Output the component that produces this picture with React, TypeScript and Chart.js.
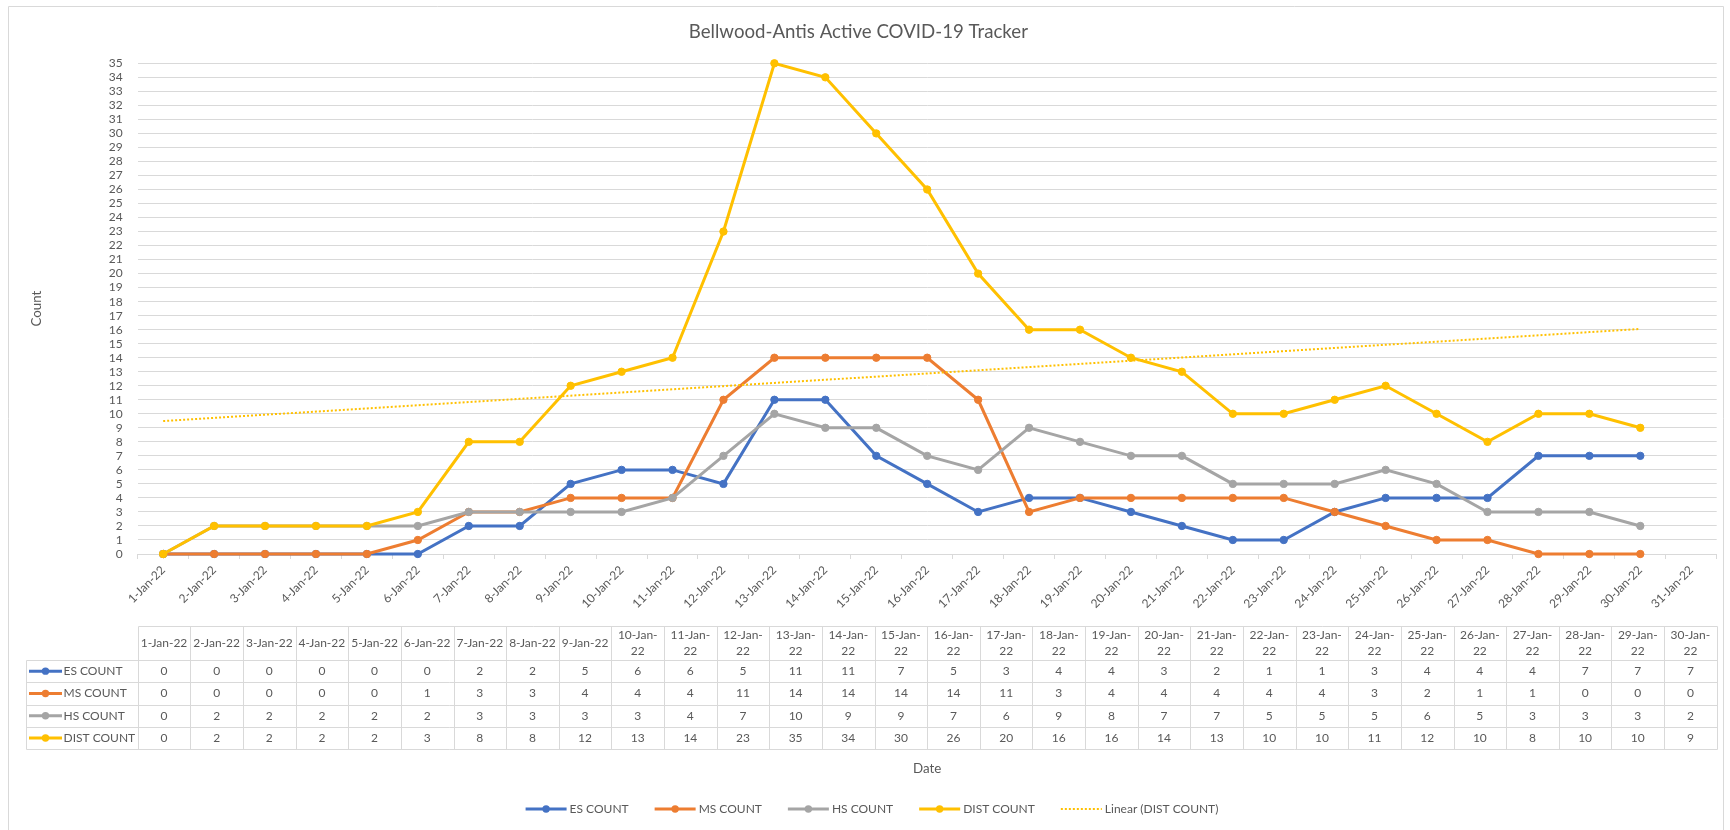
import React, { useEffect, useRef } from 'react';
import { Chart, registerables } from 'chart.js';

Chart.register(...registerables);

const FONT = "Lato, 'Open Sans', 'Noto Sans', sans-serif";
const TEXT = '#595959';
const LINE = '#d9d9d9';

const chartTitle = 'Bellwood-Antis Active COVID-19 Tracker';
const xTitle = 'Date';
const yTitle = 'Count';

const dates = [
  '1-Jan-22', '2-Jan-22', '3-Jan-22', '4-Jan-22', '5-Jan-22', '6-Jan-22', '7-Jan-22', '8-Jan-22',
  '9-Jan-22', '10-Jan-22', '11-Jan-22', '12-Jan-22', '13-Jan-22', '14-Jan-22', '15-Jan-22',
  '16-Jan-22', '17-Jan-22', '18-Jan-22', '19-Jan-22', '20-Jan-22', '21-Jan-22', '22-Jan-22',
  '23-Jan-22', '24-Jan-22', '25-Jan-22', '26-Jan-22', '27-Jan-22', '28-Jan-22', '29-Jan-22',
  '30-Jan-22', '31-Jan-22',
];

const esCount = [0, 0, 0, 0, 0, 0, 2, 2, 5, 6, 6, 5, 11, 11, 7, 5, 3, 4, 4, 3, 2, 1, 1, 3, 4, 4, 4, 7, 7, 7];
const msCount = [0, 0, 0, 0, 0, 1, 3, 3, 4, 4, 4, 11, 14, 14, 14, 14, 11, 3, 4, 4, 4, 4, 4, 3, 2, 1, 1, 0, 0, 0];
const hsCount = [0, 2, 2, 2, 2, 2, 3, 3, 3, 3, 4, 7, 10, 9, 9, 7, 6, 9, 8, 7, 7, 5, 5, 5, 6, 5, 3, 3, 3, 2];
const distCount = [0, 2, 2, 2, 2, 3, 8, 8, 12, 13, 14, 23, 35, 34, 30, 26, 20, 16, 16, 14, 13, 10, 10, 11, 12, 10, 8, 10, 10, 9];

const seriesNames = ['ES COUNT', 'MS COUNT', 'HS COUNT', 'DIST COUNT'];
const seriesColors = ['#4472C4', '#ED7D31', '#A5A5A5', '#FFC000'];
const seriesValues = [esCount, msCount, hsCount, distCount];
const trendName = 'Linear (DIST COUNT)';
const trendColor = '#FFC000';

const yMin = 0;
const yMax = 35;
const yStep = 1;

function linearTrend(values: number[]): number[] {
  const n = values.length;
  let sx = 0, sy = 0, sxy = 0, sxx = 0;
  values.forEach((v, i) => {
    const x = i + 1;
    sx += x; sy += v; sxy += x * v; sxx += x * x;
  });
  const slope = (n * sxy - sx * sy) / (n * sxx - sx * sx);
  const intercept = (sy - slope * sx) / n;
  return values.map((_, i) => intercept + slope * (i + 1));
}

const px = (v: number) => Math.round(v) + 0.5;

function drawKey(ctx: CanvasRenderingContext2D, x0: number, x1: number, y: number, color: string, dotted: boolean) {
  ctx.save();
  ctx.strokeStyle = color;
  if (dotted) {
    ctx.lineWidth = 2;
    ctx.setLineDash([2, 2]);
    ctx.beginPath();
    ctx.moveTo(x0, y);
    ctx.lineTo(x1, y);
    ctx.stroke();
  } else {
    ctx.lineWidth = 3;
    ctx.beginPath();
    ctx.moveTo(x0, y);
    ctx.lineTo(x1, y);
    ctx.stroke();
    ctx.fillStyle = color;
    ctx.beginPath();
    ctx.arc((x0 + x1) / 2, y, 3.7, 0, Math.PI * 2);
    ctx.fill();
  }
  ctx.restore();
}

const framePlugin = {
  id: 'frame',
  afterDraw(chart: any) {
    const ctx = chart.ctx as CanvasRenderingContext2D;
    ctx.save();
    ctx.strokeStyle = LINE;
    ctx.lineWidth = 1;
    ctx.beginPath();
    ctx.moveTo(8.5, 830);
    ctx.lineTo(8.5, 6.5);
    ctx.lineTo(1723.5, 6.5);
    ctx.lineTo(1723.5, 830);
    ctx.stroke();
    ctx.restore();
  },
};

const tablePlugin = {
  id: 'dataTable',
  afterDraw(chart: any) {
    const ctx = chart.ctx as CanvasRenderingContext2D;
    const { left, right, bottom } = chart.chartArea;
    const n = seriesValues[0].length;
    const colW = (right - left) / n;
    const headerTop = bottom + 72;
    const headerH = 34;
    const rowH = 22.3;
    const labelLeft = 26;
    const tableBottom = headerTop + headerH + rowH * seriesValues.length;

    ctx.save();
    ctx.strokeStyle = LINE;
    ctx.lineWidth = 1;
    ctx.beginPath();
    ctx.moveTo(px(left), px(headerTop));
    ctx.lineTo(px(right), px(headerTop));
    for (let r = 0; r <= seriesValues.length; r++) {
      const y = px(headerTop + headerH + r * rowH);
      ctx.moveTo(px(labelLeft), y);
      ctx.lineTo(px(right), y);
    }
    for (let c = 0; c <= n; c++) {
      const x = px(left + c * colW);
      ctx.moveTo(x, px(headerTop));
      ctx.lineTo(x, px(tableBottom));
    }
    ctx.moveTo(px(labelLeft), px(headerTop + headerH));
    ctx.lineTo(px(labelLeft), px(tableBottom));
    ctx.stroke();

    ctx.fillStyle = TEXT;
    ctx.font = `12px ${FONT}`;
    ctx.textAlign = 'center';
    ctx.textBaseline = 'middle';
    for (let c = 0; c < n; c++) {
      const label = dates[c];
      const cx = left + (c + 0.5) * colW;
      const cy = headerTop + headerH / 2;
      if (ctx.measureText(label).width > colW - 3) {
        const idx = label.lastIndexOf('-');
        ctx.fillText(label.slice(0, idx + 1), cx, cy - 8);
        ctx.fillText(label.slice(idx + 1), cx, cy + 8);
      } else {
        ctx.fillText(label, cx, cy);
      }
    }
    seriesValues.forEach((vals, r) => {
      const cy = headerTop + headerH + (r + 0.5) * rowH;
      vals.forEach((v, c) => {
        ctx.fillText(String(v), left + (c + 0.5) * colW, cy);
      });
    });

    seriesNames.forEach((name, r) => {
      const cy = headerTop + headerH + (r + 0.5) * rowH;
      drawKey(ctx, labelLeft + 3, labelLeft + 36, cy, seriesColors[r], false);
      ctx.fillStyle = TEXT;
      ctx.textAlign = 'left';
      ctx.fillText(name, labelLeft + 37.5, cy);
    });
    ctx.restore();
  },
};

const legendPlugin = {
  id: 'bottomLegend',
  afterDraw(chart: any) {
    const ctx = chart.ctx as CanvasRenderingContext2D;
    ctx.save();
    ctx.font = `12px ${FONT}`;
    const items = [
      ...seriesNames.map((t, i) => ({ text: t, color: seriesColors[i], dotted: false })),
      { text: trendName, color: trendColor, dotted: true },
    ];
    const symW = 41;
    const symGap = 3;
    const itemGap = 26;
    const widths = items.map((it) => symW + symGap + ctx.measureText(it.text).width);
    const total = widths.reduce((a, b) => a + b, 0) + itemGap * (items.length - 1);
    let x = chart.width / 2 + 7 - total / 2;
    const y = chart.height - 21;
    items.forEach((it, i) => {
      drawKey(ctx, x, x + symW, y, it.color, it.dotted);
      ctx.fillStyle = TEXT;
      ctx.textAlign = 'left';
      ctx.textBaseline = 'middle';
      ctx.fillText(it.text, x + symW + symGap, y);
      x += widths[i] + itemGap;
    });
    ctx.restore();
  },
};

export default function App() {
  const canvasRef = useRef<HTMLCanvasElement | null>(null);

  useEffect(() => {
    if (!canvasRef.current) return;
    Chart.defaults.font.family = FONT;

    const datasets: any[] = seriesValues.map((vals, i) => ({
      label: seriesNames[i],
      data: vals,
      borderColor: seriesColors[i],
      backgroundColor: seriesColors[i],
      pointBackgroundColor: seriesColors[i],
      pointBorderColor: seriesColors[i],
      borderWidth: 3,
      pointRadius: 3.7,
      pointBorderWidth: 1,
      tension: 0,
      clip: false,
      order: seriesValues.length - i + 1,
    }));
    datasets.push({
      label: trendName,
      data: linearTrend(distCount),
      borderColor: trendColor,
      borderWidth: 2,
      borderDash: [2, 2],
      pointRadius: 0,
      tension: 0,
      clip: false,
      order: 0,
    });

    const chart = new Chart(canvasRef.current, {
      type: 'line',
      data: { labels: dates, datasets },
      plugins: [framePlugin, tablePlugin, legendPlugin],
      options: {
        responsive: false,
        animation: false,
        devicePixelRatio: 1,
        events: [],
        layout: { padding: { left: 0, right: 13.3, top: 0, bottom: 0 } },
        plugins: {
          legend: { display: false },
          tooltip: { enabled: false },
          title: {
            display: true,
            text: chartTitle,
            color: TEXT,
            font: { size: 18.67, weight: 'normal', family: FONT },
            padding: { top: 21, bottom: 19.9 },
          },
        },
        scales: {
          x: {
            type: 'category',
            offset: true,
            grid: {
              display: true,
              drawOnChartArea: false,
              drawTicks: true,
              tickLength: 5,
              color: LINE,
              offset: true,
            },
            border: { display: true, color: LINE },
            ticks: {
              autoSkip: false,
              minRotation: 45,
              maxRotation: 45,
              color: TEXT,
              font: { size: 12, family: FONT },
              padding: 4,
            },
            title: {
              display: true,
              text: xTitle,
              color: TEXT,
              font: { size: 13.33, family: FONT },
              padding: { top: 0, bottom: 53 },
            },
            afterFit: (scale: any) => {
              scale.height = 276;
            },
          },
          y: {
            min: yMin,
            max: yMax,
            ticks: {
              stepSize: yStep,
              autoSkip: false,
              color: TEXT,
              font: { size: 12, family: FONT, lineHeight: 1 },
              padding: 15,
            },
            grid: { color: LINE, drawTicks: false },
            border: { display: false },
            title: {
              display: true,
              text: yTitle,
              color: TEXT,
              font: { size: 13.33, family: FONT },
              padding: { top: 29, bottom: 0 },
            },
            afterFit: (scale: any) => {
              scale.width = 137.7;
            },
          },
        },
      } as any,
    });
    return () => chart.destroy();
  }, []);

  return (
    <div style={{ position: 'absolute', left: 0, top: 0, width: 1730, height: 830, background: '#fff' }}>
      <canvas ref={canvasRef} width={1730} height={830} style={{ width: 1730, height: 830, display: 'block' }} />
    </div>
  );
}
